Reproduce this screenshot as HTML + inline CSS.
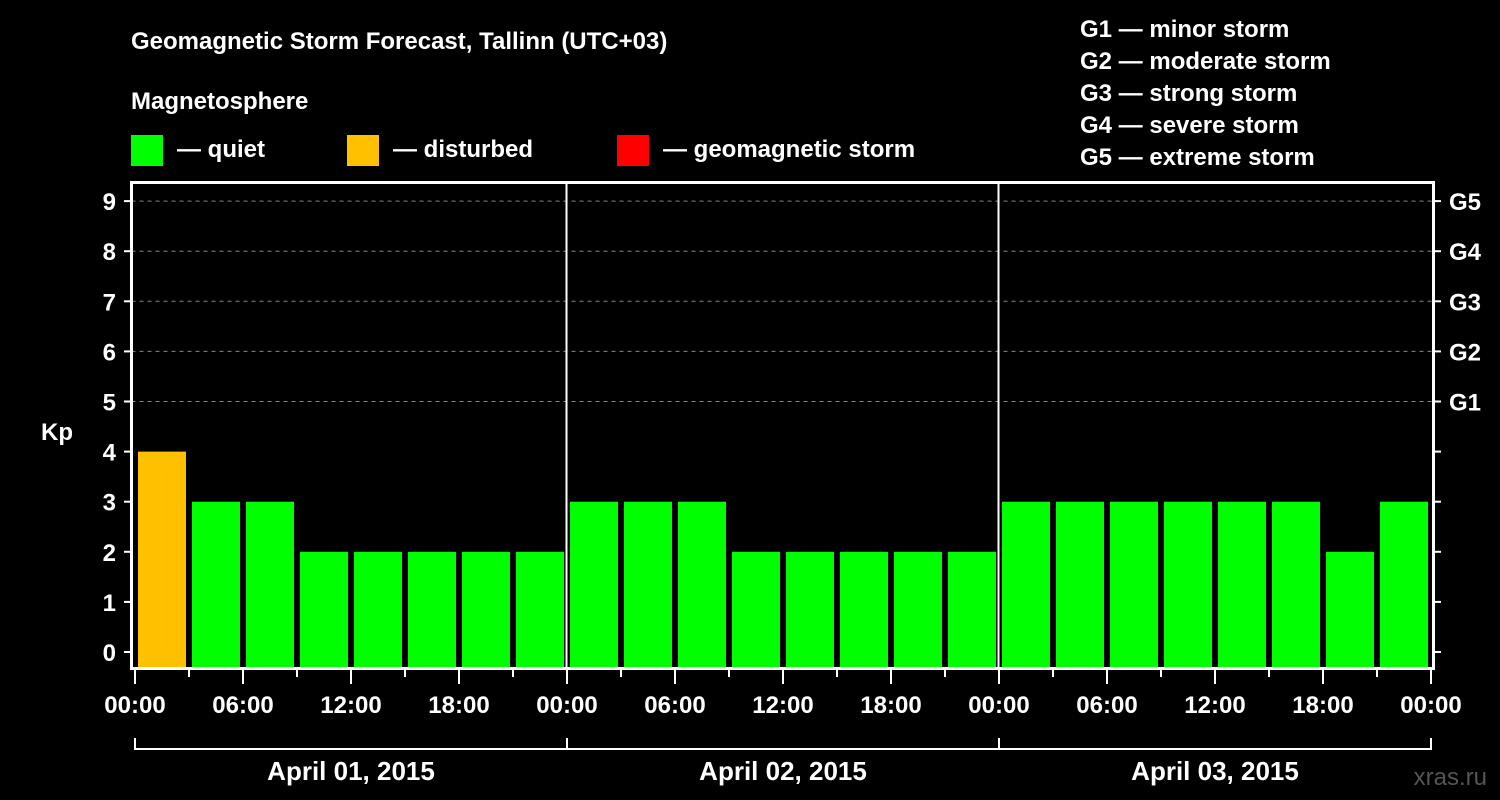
<!DOCTYPE html>
<html><head><meta charset="utf-8"><style>
body{margin:0;background:#000;}
svg{display:block;font-family:"Liberation Sans",Arial,sans-serif;font-weight:bold;}
</style></head><body>
<svg id="c" width="1500" height="800" viewBox="0 0 1500 800">
<rect width="1500" height="800" fill="#000"/>
<text x="131" y="49" fill="#fff" font-size="24">Geomagnetic Storm Forecast, Tallinn (UTC+03)</text>
<text x="131" y="109" fill="#fff" font-size="24">Magnetosphere</text>
<g>
<rect x="131" y="135" width="32" height="31" fill="#00ff00"/>
<text x="177" y="157" fill="#fff" font-size="24">— quiet</text>
<rect x="347" y="135" width="32" height="31" fill="#ffc000"/>
<text x="393" y="157" fill="#fff" font-size="24">— disturbed</text>
<rect x="617" y="135" width="32" height="31" fill="#ff0000"/>
<text x="663" y="157" fill="#fff" font-size="24">— geomagnetic storm</text>
</g>
<g fill="#fff" font-size="24">
<text x="1080" y="37">G1 — minor storm</text>
<text x="1080" y="69">G2 — moderate storm</text>
<text x="1080" y="101">G3 — strong storm</text>
<text x="1080" y="133">G4 — severe storm</text>
<text x="1080" y="165">G5 — extreme storm</text>
</g>
<text x="41" y="440" fill="#fff" font-size="24">Kp</text>
<text x="1487" y="785" fill="#555" font-size="24" text-anchor="end" font-weight="normal">xras.ru</text>
<g id="grid"></g><g id="bars"></g><g id="axes"></g>
</svg>
<script>
const kpValues=[4,3,3,2,2,2,2,2, 3,3,3,2,2,2,2,2, 3,3,3,3,3,3,2,3];
const dayLabels=["April 01, 2015","April 02, 2015","April 03, 2015"];
const hourLabels=["00:00","06:00","12:00","18:00"];
const yTicks=[0,1,2,3,4,5,6,7,8,9];
const gLabels=["G1","G2","G3","G4","G5"];
const NS="http://www.w3.org/2000/svg";
const L=131.5,R=1433.5,T=182.5,B=668.5;
const y=v=>652-v*50.1;
const x=h=>135+h*18; // hours
function mk(tag,attrs,parent,txt){const e=document.createElementNS(NS,tag);for(const k in attrs)e.setAttribute(k,attrs[k]);if(txt!==undefined)e.textContent=txt;document.getElementById(parent).appendChild(e);return e;}
const grid='grid',axes='axes',bars='bars';
for(let g=5;g<=9;g++){
 const l=mk('line',{x1:L,x2:R,y1:y(g),y2:y(g),stroke:'#888','stroke-dasharray':'4,4','stroke-width':1},grid);
 
 
}
for(let d=1;d<dayLabels.length;d++){
 const l=mk('line',{x1:x(d*24)-0.5,x2:x(d*24)-0.5,y1:T,y2:B,stroke:'#fff','stroke-width':2},grid);
 
 
}
kpValues.forEach((v,i)=>{
 const c=v>=5?'#ff0000':(v>=4?'#ffc000':'#00ff00');
 const r=mk('rect',{x:x(i*3)+3,y:y(v),width:48,height:B-0.5-y(v),fill:c},bars);
 
 
});
const fr=mk('rect',{x:L,y:T,width:R-L,height:B-T,fill:'none',stroke:'#fff','stroke-width':3},axes);


yTicks.forEach(v=>{
 mk('line',{x1:124,x2:L,y1:y(v),y2:y(v),stroke:'#fff','stroke-width':2},axes);
 mk('line',{x1:R,x2:1441,y1:y(v),y2:y(v),stroke:'#fff','stroke-width':2},axes);
 const t=mk('text',{x:116,y:y(v)+9,fill:'#fff','font-size':24,'text-anchor':'end'},axes,String(v));
 
 
});
gLabels.forEach((g,i)=>{
 const t=mk('text',{x:1449,y:y(5+i)+9,fill:'#fff','font-size':24},axes,g);
 
 
});
for(let i=0;i<=kpValues.length;i++){
 const big=i%2===0;
 mk('line',{x1:x(i*3),x2:x(i*3),y1:B,y2:big?684:677,stroke:'#fff','stroke-width':2},axes);
 if(big){
  const h=(i*3)%24;
  const t=mk('text',{x:x(i*3),y:713,fill:'#fff','font-size':24,'text-anchor':'middle'},axes,hourLabels[h/6]);
  
  
 }
}
const br=mk('path',{d:`M${x(0)},738V749H${x(72)}V738`,fill:'none',stroke:'#fff','stroke-width':2},axes);


dayLabels.forEach((d,i)=>{
 if(i>0)mk('line',{x1:x(i*24),x2:x(i*24),y1:738,y2:749,stroke:'#fff','stroke-width':2},axes);
 const t=mk('text',{x:x(i*24+12),y:780,fill:'#fff','font-size':26,'text-anchor':'middle'},axes,d);
 
 
});
</script>
</body></html>
